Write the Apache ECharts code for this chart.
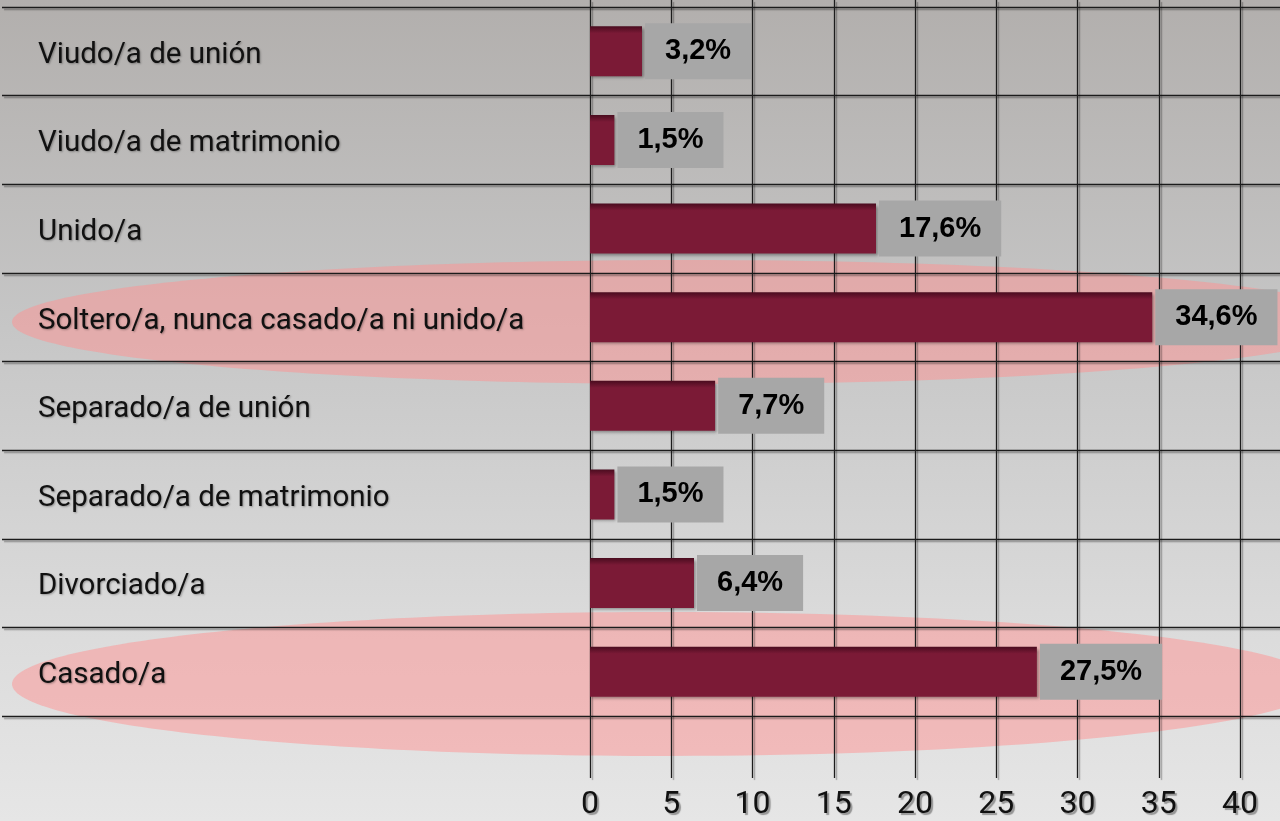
<!DOCTYPE html>
<html>
<head>
<meta charset="utf-8">
<script src="https://cdn.jsdelivr.net/npm/echarts@6/dist/echarts.min.js"></script>
<style>
  html, body { margin: 0; padding: 0; }
  #estadoChart {
    width: 1280px;
    height: 821px;
    background: linear-gradient(to bottom, #b2afad 0%, #c6c6c6 40%, #dcdcdc 78%, #e6e6e6 100%);
  }
</style>
</head>
<body>
<div id="estadoChart"></div>
<script>
  // datos del gráfico (de arriba hacia abajo)
  const categorias = ['Viudo/a de unión', 'Viudo/a de matrimonio', 'Unido/a', 'Soltero/a, nunca casado/a ni unido/a',
    'Separado/a de unión', 'Separado/a de matrimonio', 'Divorciado/a', 'Casado/a']
  const porcentajes = [3.2, 1.5, 17.6, 34.6, 7.7, 1.5, 6.4, 27.5]
  const ticksX = [0, 5, 10, 15, 20, 25, 30, 35, 40]

  const chart = echarts.init(document.getElementById('estadoChart'))

  const lineaGrid = {
    color: '#1c1c1c',
    width: 1.3,
    shadowColor: 'rgba(0,0,0,0.3)',
    shadowBlur: 1,
    shadowOffsetX: 2,
    shadowOffsetY: 2
  }

  let option = {
    backgroundColor: 'transparent',
    animation: false,
    // elipses rosas que resaltan dos filas
    graphic: {
      elements: [
        {
          type: 'ellipse', z: -10, silent: true,
          shape: { cx: 688, cy: 322, rx: 676, ry: 62 },
          style: { fill: 'rgba(255,145,145,0.5)' }
        },
        {
          type: 'ellipse', z: -10, silent: true,
          shape: { cx: 666, cy: 684, rx: 654, ry: 72 },
          style: { fill: 'rgba(255,145,145,0.5)' }
        }
      ]
    },
    grid: [
      { left: 590, width: 650, top: 7, height: 709 },   // barras
      { left: 590, width: 650, top: 0, bottom: 41 },    // líneas verticales + ticks
      { left: 2, right: 0, top: 7, height: 709 }        // separadores horizontales
    ],
    xAxis: [
      { gridIndex: 0, type: 'value', min: 0, max: 40, interval: 5, show: false },
      {
        gridIndex: 1, type: 'value', min: 0, max: 40, interval: 5,
        axisLine: { show: false }, axisTick: { show: false },
        splitLine: { show: true, lineStyle: lineaGrid },
        axisLabel: {
          margin: 11,
          fontFamily: 'Liberation Sans Narrow, Roboto, sans-serif',
          fontSize: 32,
          color: '#111',
          textShadowColor: 'rgba(0,0,0,0.35)',
          textShadowOffsetX: 2,
          textShadowOffsetY: 2,
          textShadowBlur: 1,
          formatter: v => ticksX.includes(v) ? String(v) : ''
        }
      },
      { gridIndex: 2, type: 'value', min: 0, max: 1, show: false }
    ],
    yAxis: [
      {
        gridIndex: 0, type: 'category', data: categorias, inverse: true,
        axisLine: { show: false }, axisTick: { show: false }, splitLine: { show: false },
        axisLabel: {
          align: 'left',
          margin: 552,
          formatter: v => '{c|' + v + '}',
          rich: {
            c: {
              padding: [8, 0, 0, 0],
              fontFamily: 'Roboto, sans-serif',
              fontSize: 29.5,
              color: '#111',
              textShadowColor: 'rgba(0,0,0,0.3)',
              textShadowOffsetX: 1,
              textShadowOffsetY: 1,
              textShadowBlur: 2
            }
          }
        }
      },
      { gridIndex: 1, type: 'value', show: false },
      {
        gridIndex: 2, type: 'category', data: categorias, inverse: true,
        axisLine: { show: false }, axisTick: { show: false }, axisLabel: { show: false },
        splitLine: { show: true, lineStyle: lineaGrid }
      }
    ],
    series: [
      {
        name: 'Estado civil',
        type: 'bar',
        xAxisIndex: 0,
        yAxisIndex: 0,
        barWidth: 50,
        data: porcentajes,
        itemStyle: {
          color: {
            type: 'linear', x: 0, y: 0, x2: 0, y2: 1,
            colorStops: [
              { offset: 0, color: '#4a0c1f' },
              { offset: 0.14, color: '#7b1a36' },
              { offset: 1, color: '#7b1a36' }
            ]
          },
          shadowColor: 'rgba(0,0,0,0.35)',
          shadowBlur: 3,
          shadowOffsetX: 2,
          shadowOffsetY: 2
        },
        label: {
          show: true,
          position: 'right',
          distance: 3,
          backgroundColor: '#a7a7a7',
          padding: [13, 20],
          lineHeight: 30,
          fontFamily: 'Liberation Sans, Arial, sans-serif',
          fontWeight: 'bold',
          fontSize: 29,
          color: '#000',
          formatter: p => p.value.toFixed(1).replace('.', ',') + '%'
        }
      }
    ]
  }
  option && chart.setOption(option)
</script>
</body>
</html>
